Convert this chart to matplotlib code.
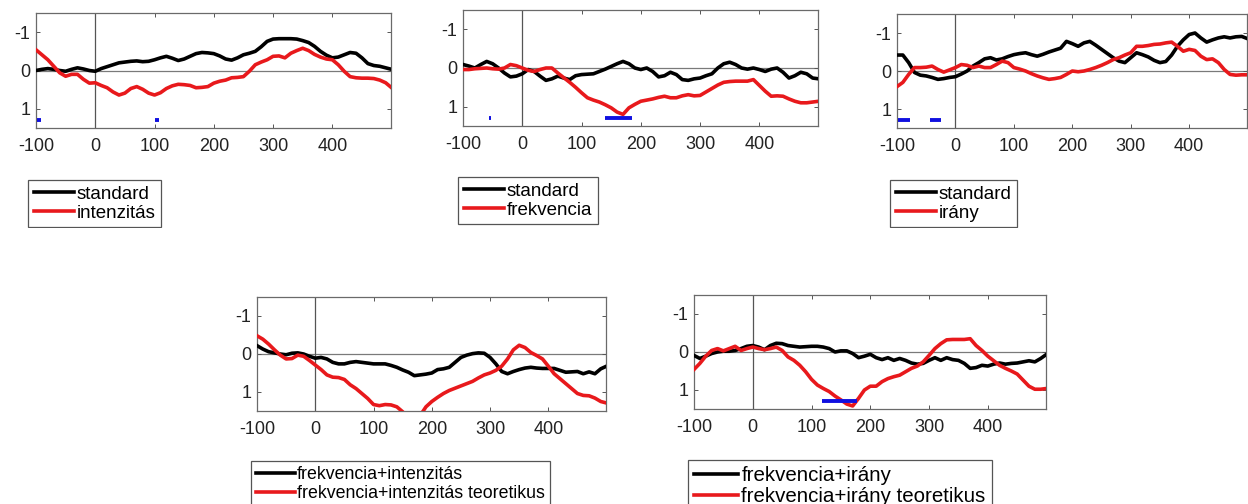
import numpy as np
import matplotlib
matplotlib.use("Agg")
import matplotlib.pyplot as plt
from matplotlib.patches import Rectangle

plt.rcParams["font.family"] = ["Liberation Sans", "DejaVu Sans"]
plt.rcParams["axes.unicode_minus"] = False

# time axis (ms), one value every 10 ms
t = np.arange(-100, 501, 10)

# panel 1: standard vs intenzitás
std1 = [0.0, -0.03, -0.05, -0.03, 0.0, 0.02, -0.03, -0.07, -0.04, 0.0,
        0.02, -0.05, -0.1, -0.15, -0.2, -0.22, -0.24, -0.25, -0.23, -0.24,
        -0.28, -0.33, -0.37, -0.32, -0.26, -0.3, -0.37, -0.44, -0.47, -0.46,
        -0.44, -0.38, -0.3, -0.27, -0.33, -0.41, -0.45, -0.5, -0.62, -0.76,
        -0.82, -0.83, -0.83, -0.83, -0.82, -0.78, -0.73, -0.63, -0.5, -0.4,
        -0.33, -0.35, -0.41, -0.47, -0.45, -0.33, -0.18, -0.13, -0.11, -0.07,
        -0.03]
int1 = [-0.54, -0.41, -0.28, -0.11, 0.06, 0.15, 0.1, 0.1, 0.23, 0.33,
        0.32, 0.39, 0.45, 0.56, 0.64, 0.59, 0.47, 0.42, 0.49, 0.59,
        0.64, 0.58, 0.47, 0.4, 0.36, 0.37, 0.39, 0.45, 0.44, 0.42,
        0.33, 0.28, 0.25, 0.19, 0.18, 0.16, 0.02, -0.15, -0.22, -0.28,
        -0.37, -0.38, -0.33, -0.45, -0.52, -0.58, -0.52, -0.42, -0.35, -0.3,
        -0.28, -0.15, 0.02, 0.16, 0.19, 0.2, 0.2, 0.21, 0.25, 0.32,
        0.45]
sig1 = [(-98, -92), (100, 108)]

# panel 2: standard vs frekvencia
std2 = [-0.09, -0.05, 0.0, -0.09, -0.17, -0.11, 0.0, 0.13, 0.23, 0.21,
        0.15, 0.04, 0.09, 0.21, 0.32, 0.28, 0.21, 0.26, 0.3, 0.2,
        0.17, 0.16, 0.15, 0.09, 0.03, -0.04, -0.11, -0.17, -0.11, 0.0,
        0.04, 0.0, 0.09, 0.23, 0.2, 0.11, 0.17, 0.3, 0.32, 0.28,
        0.26, 0.2, 0.15, 0.0, -0.11, -0.15, -0.09, 0.0, 0.03, 0.0,
        0.04, 0.09, 0.03, 0.0, 0.11, 0.26, 0.2, 0.11, 0.15, 0.26,
        0.28]
frek2 = [0.04, 0.04, 0.02, 0.01, 0.0, 0.02, 0.03, 0.0, -0.09, -0.06,
         0.0, 0.06, 0.09, 0.04, 0.0, 0.0, 0.13, 0.25, 0.37, 0.5,
         0.64, 0.77, 0.83, 0.88, 0.95, 1.03, 1.14, 1.2, 1.03, 0.94,
         0.86, 0.83, 0.8, 0.76, 0.73, 0.77, 0.77, 0.72, 0.69, 0.72,
         0.71, 0.62, 0.53, 0.44, 0.37, 0.35, 0.34, 0.34, 0.34, 0.3,
         0.45, 0.6, 0.73, 0.72, 0.73, 0.8, 0.86, 0.9, 0.9, 0.88,
         0.86]
sig2 = [(-56, -52), (140, 186)]

# panel 3: standard vs irány
std3 = [-0.42, -0.42, -0.22, 0.04, 0.11, 0.13, 0.17, 0.22, 0.2, 0.17,
        0.15, 0.08, 0.0, -0.13, -0.22, -0.32, -0.35, -0.29, -0.32, -0.38,
        -0.43, -0.46, -0.48, -0.43, -0.39, -0.44, -0.5, -0.55, -0.6, -0.78,
        -0.72, -0.65, -0.74, -0.78, -0.68, -0.57, -0.46, -0.35, -0.26, -0.22,
        -0.35, -0.48, -0.43, -0.37, -0.28, -0.22, -0.25, -0.42, -0.65, -0.82,
        -0.96, -1.0, -0.87, -0.76, -0.82, -0.87, -0.9, -0.87, -0.9, -0.91,
        -0.85]
irany3 = [0.41, 0.3, 0.09, -0.09, -0.09, -0.1, -0.13, -0.04, 0.03, -0.03,
          -0.09, -0.17, -0.15, -0.09, -0.13, -0.09, -0.09, -0.17, -0.26, -0.22,
          -0.09, -0.05, 0.0, 0.07, 0.13, 0.18, 0.22, 0.2, 0.17, 0.09,
          0.0, 0.02, 0.0, -0.04, -0.09, -0.15, -0.22, -0.3, -0.35, -0.42,
          -0.48, -0.65, -0.65, -0.67, -0.7, -0.71, -0.74, -0.76, -0.65, -0.52,
          -0.57, -0.54, -0.39, -0.3, -0.32, -0.22, -0.04, 0.09, 0.11, 0.1,
          0.1]
sig3 = [(-98, -78), (-43, -24)]

# panel 4: frekvencia+intenzitás vs theoretical
fi4 = [-0.22, -0.13, -0.06, -0.03, 0.0, 0.02, -0.02, -0.03, 0.0, 0.06,
       0.11, 0.09, 0.13, 0.22, 0.26, 0.26, 0.22, 0.2, 0.22, 0.24,
       0.26, 0.26, 0.26, 0.3, 0.35, 0.42, 0.48, 0.57, 0.55, 0.53,
       0.5, 0.41, 0.39, 0.35, 0.22, 0.09, 0.03, -0.01, -0.03, -0.02,
       0.09, 0.26, 0.46, 0.52, 0.46, 0.41, 0.37, 0.35, 0.37, 0.38,
       0.38, 0.38, 0.43, 0.48, 0.47, 0.46, 0.52, 0.47, 0.52, 0.39,
       0.32]
fit4 = [-0.48, -0.39, -0.26, -0.11, 0.03, 0.13, 0.12, 0.03, 0.06, 0.17,
        0.29, 0.41, 0.55, 0.61, 0.62, 0.67, 0.81, 0.91, 1.04, 1.17,
        1.33, 1.36, 1.33, 1.34, 1.39, 1.52, 1.7, 1.75, 1.62, 1.39,
        1.25, 1.14, 1.04, 0.96, 0.9, 0.84, 0.78, 0.72, 0.63, 0.55,
        0.5, 0.43, 0.32, 0.13, -0.11, -0.23, -0.17, -0.04, 0.04, 0.13,
        0.32, 0.52, 0.65, 0.78, 0.91, 1.04, 1.09, 1.1, 1.16, 1.25,
        1.29]
sig4 = []

# panel 5: frekvencia+irány vs theoretical
fir5 = [0.09, 0.17, 0.11, 0.04, 0.0, -0.02, -0.02, -0.04, -0.09, -0.15,
        -0.17, -0.13, -0.06, -0.17, -0.23, -0.22, -0.17, -0.15, -0.13, -0.14,
        -0.15, -0.15, -0.13, -0.09, 0.0, -0.03, -0.03, 0.04, 0.15, 0.11,
        0.06, 0.15, 0.2, 0.15, 0.22, 0.17, 0.22, 0.29, 0.32, 0.3,
        0.22, 0.15, 0.22, 0.15, 0.2, 0.22, 0.3, 0.43, 0.41, 0.35,
        0.37, 0.32, 0.29, 0.32, 0.3, 0.29, 0.26, 0.23, 0.26, 0.17,
        0.06]
firt5 = [0.46, 0.3, 0.11, -0.04, -0.09, -0.03, -0.09, -0.15, -0.04, -0.09,
         -0.13, -0.09, -0.06, -0.09, -0.13, -0.04, 0.13, 0.22, 0.35, 0.52,
         0.72, 0.87, 0.96, 1.04, 1.16, 1.26, 1.37, 1.42, 1.22, 1.0,
         0.9, 0.9, 0.78, 0.7, 0.65, 0.61, 0.52, 0.43, 0.37, 0.26,
         0.09, -0.09, -0.22, -0.32, -0.33, -0.33, -0.33, -0.35, -0.17, -0.04,
         0.11, 0.23, 0.35, 0.43, 0.5, 0.58, 0.74, 0.9, 0.98, 0.98,
         0.96]
sig5 = [(117, 178)]

labels = [("standard", "intenzitás"),
          ("standard", "frekvencia"),
          ("standard", "irány"),
          ("frekvencia+intenzitás", "frekvencia+intenzitás teoretikus"),
          ("frekvencia+irány", "frekvencia+irány teoretikus")]
black_series = [std1, std2, std3, fi4, fir5]
red_series = [int1, frek2, irany3, fit4, firt5]
sigs = [sig1, sig2, sig3, sig4, sig5]

W, H = 1248, 504
# axes boxes in pixels: left, top, right, bottom
boxes = [(36, 13, 391, 128), (463, 10, 818, 126), (897, 14, 1247, 128),
         (257, 297, 606, 411), (694, 295, 1046, 409)]
# legend anchor (left, top) in pixels
leg_pos = [(28, 180), (458, 177), (890, 180), (251, 461), (688, 460)]
leg_fs = [13.5, 13.5, 13.5, 12.8, 14.8]

RED = "#e8191c"
fig = plt.figure(figsize=(W / 100, H / 100), dpi=100)

for i in range(5):
    l, tp, r, b = boxes[i]
    ax = fig.add_axes([l / W, 1 - b / H, (r - l) / W, (b - tp) / H])
    ax.axhline(0, color="#7a7a7a", lw=0.9, zorder=1)
    ax.axvline(0, color="#555555", lw=0.9, zorder=1)
    ax.plot(t, black_series[i], color="black", lw=2.6, label=labels[i][0], zorder=3)
    ax.plot(t, red_series[i], color=RED, lw=2.6, label=labels[i][1], zorder=3)
    for s0, s1 in sigs[i]:
        ax.plot([s0, s1], [1.3, 1.3], color="#1010e0", lw=2.8,
                solid_capstyle="butt", zorder=4)
    ax.set_xlim(-100, 499)
    ax.set_ylim(1.5, -1.5)
    ax.set_xticks([-100, 0, 100, 200, 300, 400])
    ax.set_yticks([-1, 0, 1])
    ax.tick_params(direction="in", top=True, right=True, length=3, width=0.7,
                   colors="#555555", labelcolor="#222222", labelsize=13)
    ax.tick_params(axis="x", pad=7)
    ax.tick_params(axis="y", pad=4)
    for sp in ax.spines.values():
        sp.set_color("#6a6a6a")
        sp.set_linewidth(0.9)
    lx, ly = leg_pos[i]
    leg = ax.legend(loc="upper left", bbox_to_anchor=(lx / W, 1 - ly / H),
                    bbox_transform=fig.transFigure, borderaxespad=0,
                    fancybox=False, edgecolor="#555555", framealpha=1,
                    fontsize=leg_fs[i], handlelength=2.15, handletextpad=0.15,
                    labelspacing=0.1, borderpad=0.3)
    leg.get_frame().set_linewidth(0.9)

# top-row legends are cut off below, as in the source figure
fig.add_artist(Rectangle((0, 1 - 286 / H), 1, (286 - 228) / H,
                         transform=fig.transFigure, facecolor="white",
                         edgecolor="none", zorder=10))

plt.savefig("out.png", dpi=100)
